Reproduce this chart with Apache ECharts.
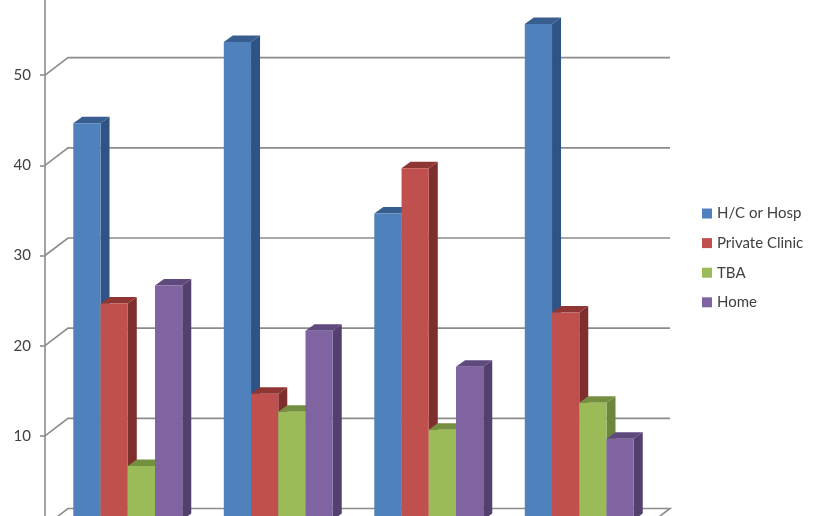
<!DOCTYPE html>
<html>
<head>
<meta charset="utf-8">
<style>html,body{margin:0;padding:0;background:#fff}#c{width:818px;height:516px}</style>
<script src="https://cdn.jsdelivr.net/npm/echarts@6/dist/echarts.min.js"></script>
</head>
<body>
<div id="c"></div>
<script>
var categories = ['Group 1', 'Group 2', 'Group 3', 'Group 4'];
var seriesNames = ['H/C or Hosp', 'Private Clinic', 'TBA', 'Home'];
var hcOrHosp = [44, 53, 34, 55];
var privateClinic = [24, 14, 39, 23];
var tba = [6, 12, 10, 13];
var home = [26, 21, 17, 9];
var tickValues = [0, 10, 20, 30, 40, 50, 60];
var seriesValues = [hcOrHosp, privateClinic, tba, home];

var frontColors = ['#4F81BD', '#C0504D', '#9BBB59', '#8064A2'];
var topColors = ['#375E8F', '#8F3634', '#748F40', '#5F4A7E'];
var sideColors = ['#2F5384', '#7E2E2C', '#6C873C', '#54406F'];

var wallDx = 23, wallDy = -17.5; // back wall offset
var barDx = 9, barDy = -6.5;     // bar depth
var liftY = -6;                  // bars stand slightly behind the front plane
var groupShift = 0.05, barFrac = 0.181;
var gridColor = '#8C8C8C';

function wallSeries() {
  return {
    type: 'custom', silent: true, clip: false, z: 1,
    coordinateSystem: 'cartesian2d',
    encode: { x: 0, y: 1 },
    data: tickValues.map(function (t) { return [0, t]; }),
    renderItem: function (params, api) {
      var y = api.coord([0, api.value(1)])[1];
      var cs = params.coordSys;
      var l = cs.x, r = cs.x + cs.width;
      var pts = [[l, y], [l + wallDx, y + wallDy], [r + wallDx, y + wallDy]];
      if (api.value(1) === 0) pts.push([r, y]);
      return { type: 'polyline', shape: { points: pts }, style: { stroke: gridColor, lineWidth: 1.6, fill: null } };
    }
  };
}

function barSeries(si) {
  return {
    type: 'custom', name: seriesNames[si], clip: false, z: 2 + si,
    coordinateSystem: 'cartesian2d',
    itemStyle: { color: frontColors[si] },
    encode: { x: 0, y: 1 },
    data: seriesValues[si].map(function (v, i) { return [i, v]; }),
    renderItem: function (params, api) {
      var top = api.coord([api.value(0), api.value(1)]);
      var base = api.coord([api.value(0), 0]);
      var band = api.size([1, 0])[0];
      var w = band * barFrac;
      var x0 = top[0] + band * groupShift + (si - 2) * w;
      var x1 = x0 + w;
      var y0 = top[1] + liftY, y1 = base[1] + liftY;
      return {
        type: 'group',
        children: [
          { type: 'polygon', shape: { points: [[x1, y0], [x1 + barDx, y0 + barDy], [x1 + barDx, y1 + barDy], [x1, y1]] }, style: { fill: sideColors[si] } },
          { type: 'polygon', shape: { points: [[x0, y0], [x0 + barDx, y0 + barDy], [x1 + barDx, y0 + barDy], [x1, y0]] }, style: { fill: topColors[si] } },
          { type: 'rect', shape: { x: x0, y: y0, width: w, height: y1 - y0 }, style: { fill: frontColors[si] } }
        ]
      };
    }
  };
}

var chart = echarts.init(document.getElementById('c'), null, { renderer: 'canvas' });
chart.setOption({
  animation: false,
  backgroundColor: '#ffffff',
  grid: { left: 45, width: 602, top: -15, height: 541, containLabel: false, outerBoundsMode: 'none' },
  legend: {
    orient: 'vertical', left: 697, top: 201, icon: 'rect',
    itemWidth: 10, itemHeight: 10, itemGap: 14.6,
    data: seriesNames,
    selectedMode: false,
    textStyle: { fontFamily: 'Lato', fontSize: 15, color: '#404040' }
  },
  xAxis: {
    type: 'category', data: categories,
    axisLine: { show: false }, axisTick: { show: false }, axisLabel: { show: false }, splitLine: { show: false }
  },
  yAxis: {
    type: 'value', min: 0, max: 60, interval: 10,
    axisLine: { show: true, lineStyle: { color: gridColor, width: 1.6 } },
    axisTick: { show: true, length: 5, lineStyle: { color: gridColor, width: 1.6 } },
    axisLabel: { margin: 14, fontFamily: 'Lato', fontSize: 15, color: '#404040', padding: [2, 0, 0, 0] },
    splitLine: { show: false }
  },
  series: [wallSeries()].concat(seriesNames.map(function (n, i) { return barSeries(i); }))
});
</script>
</body>
</html>
